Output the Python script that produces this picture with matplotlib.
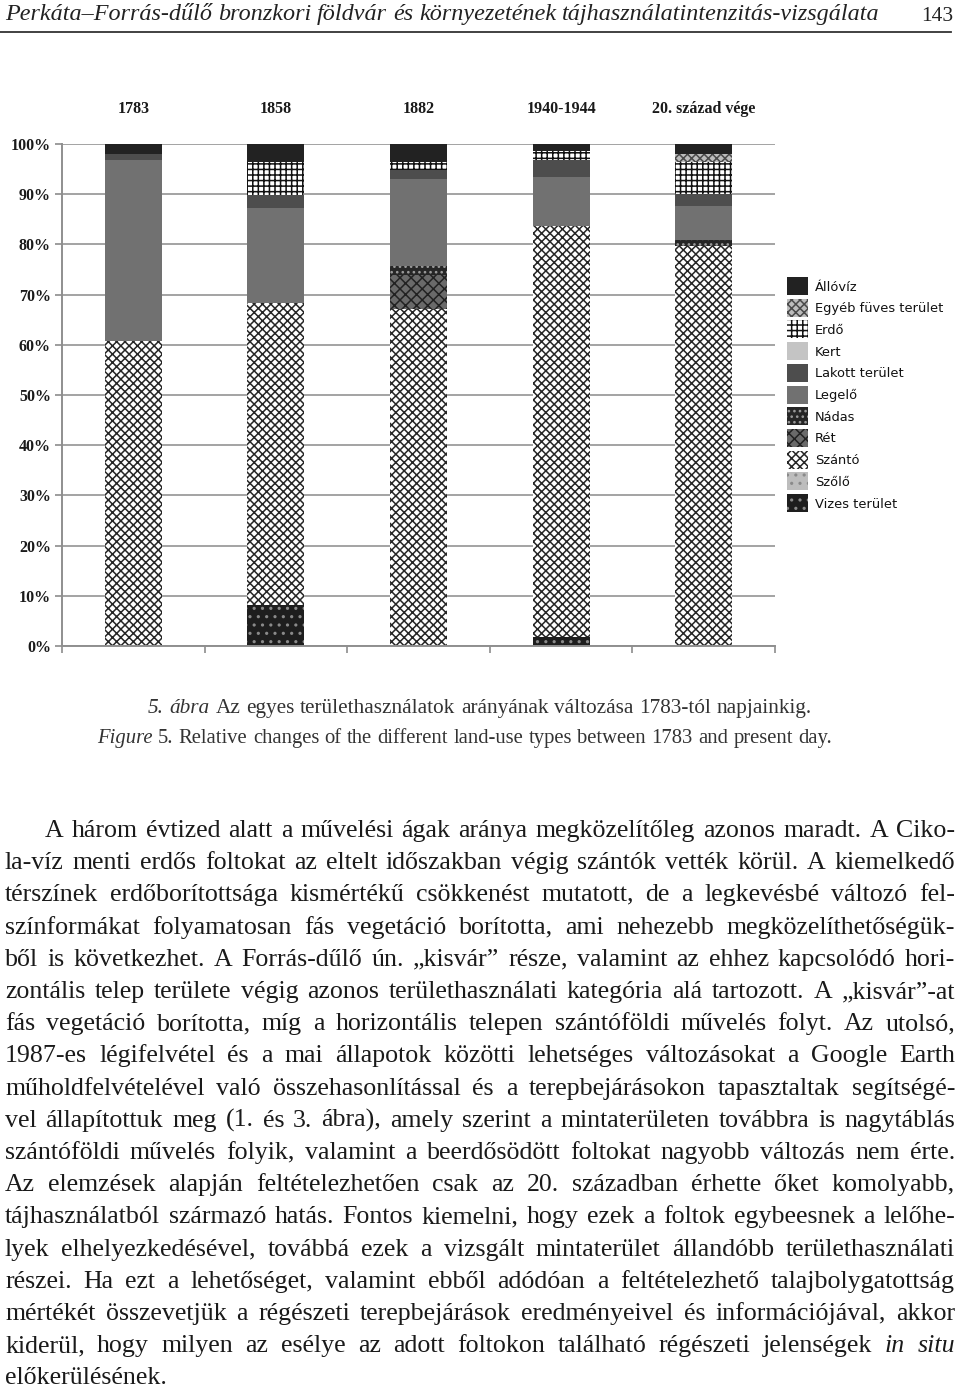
"""
Perkáta – területhasználati arányok 1783-tól napjainkig (5. ábra) + oldal szövege
"""
import matplotlib
matplotlib.use("Agg")
import matplotlib.pyplot as plt
from matplotlib.patches import Rectangle
import numpy as np

plt.rcParams["hatch.linewidth"] = 1.1

# --- adatok -------------------------------------------------------------
periods = ["1783", "1858", "1882", "1940-1944", "20. század vége"]

# rétegek alulról felfelé (a jelmagyarázat fordított sorrendje)
vizes = [0, 8.2, 0, 1.85, 0]
szolo = [0, 0, 0, 0, 0]
szanto = [60.8, 60.2, 67.1, 81.85, 79.7]
ret = [0, 0, 6.9, 0, 0]
nadas = [0, 0, 1.7, 0, 1.1]
legelo = [36.0, 18.9, 17.3, 9.8, 6.9]
lakott = [1.2, 2.5, 1.8, 3.3, 2.3]
kert = [0, 0, 0, 0, 0]
erdo = [0, 6.6, 1.6, 1.8, 6.4]
egyeb = [0, 0, 0, 0, 1.6]
allovi = [2.0, 3.6, 3.6, 1.4, 2.0]

layer_names = ["Vizes terület", "Szőlő", "Szántó", "Rét", "Nádas", "Legelő",
               "Lakott terület", "Kert", "Erdő", "Egyéb füves terület", "Állóvíz"]
layer_values = [vizes, szolo, szanto, ret, nadas, legelo, lakott, kert, erdo, egyeb, allovi]

y_ticks = list(range(0, 101, 10))
y_labels = [f"{v}%" for v in y_ticks]

HEADER = "Perkáta–Forrás-dűlő bronzkori földvár és környezetének tájhasználatintenzitás-vizsgálata"
PAGE_NO = "143"
CAPTION_1 = "*5.* *ábra* Az egyes területhasználatok arányának változása 1783-tól napjainkig."
CAPTION_2 = "*Figure* 5. Relative changes of the different land-use types between 1783 and present day."

BODY = [
    "A három évtized alatt a művelési ágak aránya megközelítőleg azonos maradt. A Ciko-",
    "la-víz menti erdős foltokat az eltelt időszakban végig szántók vették körül. A kiemelkedő",
    "térszínek erdőborítottsága kismértékű csökkenést mutatott, de a legkevésbé változó fel-",
    "színformákat folyamatosan fás vegetáció borította, ami nehezebb megközelíthetőségük-",
    "ből is következhet. A Forrás-dűlő ún. „kisvár” része, valamint az ehhez kapcsolódó hori-",
    "zontális telep területe végig azonos területhasználati kategória alá tartozott. A „kisvár”-at",
    "fás vegetáció borította, míg a horizontális telepen szántóföldi művelés folyt. Az utolsó,",
    "1987-es légifelvétel és a mai állapotok közötti lehetséges változásokat a Google Earth",
    "műholdfelvételével való összehasonlítással és a terepbejárásokon tapasztaltak segítségé-",
    "vel állapítottuk meg (1. és 3. ábra), amely szerint a mintaterületen továbbra is nagytáblás",
    "szántóföldi művelés folyik, valamint a beerdősödött foltokat nagyobb változás nem érte.",
    "Az elemzések alapján feltételezhetően csak az 20. században érhette őket komolyabb,",
    "tájhasználatból származó hatás. Fontos kiemelni, hogy ezek a foltok egybeesnek a lelőhe-",
    "lyek elhelyezkedésével, továbbá ezek a vizsgált mintaterület állandóbb területhasználati",
    "részei. Ha ezt a lehetőséget, valamint ebből adódóan a feltételezhető talajbolygatottság",
    "mértékét összevetjük a régészeti terepbejárások eredményeivel és információjával, akkor",
    "kiderül, hogy milyen az esélye az adott foltokon található régészeti jelenségek *in* *situ*",
    "előkerülésének.",
]

# mintázatok (kitöltés, sraffozás, sraffozás színe)
STYLES = {
    "Állóvíz": dict(color="#222222", hatch=None, edgecolor="#222222"),
    "Egyéb füves terület": dict(color="#bcbcbc", hatch="xxxx", edgecolor="#4a4a4a"),
    "Erdő": dict(color="white", hatch="+++", edgecolor="#111111"),
    "Kert": dict(color="#c4c4c4", hatch=None, edgecolor="#c4c4c4"),
    "Lakott terület": dict(color="#4d4d4d", hatch=None, edgecolor="#4d4d4d"),
    "Legelő": dict(color="#717171", hatch=None, edgecolor="#717171"),
    "Nádas": dict(color="#262626", hatch="...", edgecolor="#9a9a9a"),
    "Rét": dict(color="#6a6a6a", hatch="xxx", edgecolor="#222222"),
    "Szántó": dict(color="white", hatch="xxxx", edgecolor="#262626"),
    "Szőlő": dict(color="#bdbdbd", hatch="..", edgecolor="#8a8a8a"),
    "Vizes terület": dict(color="#1e1e1e", hatch="..", edgecolor="#8a8a8a"),
}

SERIF = "Liberation Serif"
W, H = 960, 1388


def put_line(ov, renderer, line, x0, x1, y, size, justify=True, fit=False, **kw):
    words = line.split(" ")
    arts = []
    for w in words:
        style = "normal"
        if len(w) > 2 and w.startswith("*") and w.endswith("*"):
            w, style = w[1:-1], "italic"
        arts.append(ov.text(0, y, w, fontsize=size, fontstyle=style, family=SERIF,
                            va="baseline", ha="left", **kw))
    if fit:
        widths = [t.get_window_extent(renderer).width for t in arts]
        natural = sum(widths) + 0.25 * size * 100 / 72 * (len(words) - 1)
        size = size * (x1 - x0) / natural
        for t in arts:
            t.set_fontsize(size)
    widths = [t.get_window_extent(renderer).width for t in arts]
    if justify and len(words) > 1:
        gap = (x1 - x0 - sum(widths)) / (len(words) - 1)
    else:
        gap = 0.25 * size * 100 / 72
    x = x0
    for t, wd in zip(arts, widths):
        t.set_x(x)
        x += wd + gap


def main():
    fig = plt.figure(figsize=(W / 100, H / 100), dpi=100)
    fig.patch.set_facecolor("white")

    # --- oszlopdiagram ---
    ax = fig.add_axes([62 / W, (H - 646) / H, (775 - 62) / W, 502 / H])
    x = np.arange(len(periods))
    bottom = np.zeros(len(periods))
    for name, vals in zip(layer_names, layer_values):
        st = STYLES[name]
        ax.bar(x, vals, 0.4, bottom=bottom, color=st["color"], hatch=st["hatch"],
               edgecolor=st["edgecolor"], linewidth=0, zorder=2)
        bottom += np.array(vals)

    ax.set_xlim(-0.5, len(periods) - 0.5)
    ax.set_ylim(0, 100)
    ax.set_yticks(y_ticks, labels=y_labels)
    for lab in ax.get_yticklabels():
        lab.set_fontfamily(SERIF)
        lab.set_fontweight("bold")
        lab.set_fontsize(11.5)
        lab.set_color("#1a1a1a")
    ax.tick_params(axis="y", length=5, width=1.2, color="#8c8c8c", pad=3)
    ax.yaxis.grid(True, color="#a3a3a3", linewidth=1.4, zorder=0)
    ax.set_axisbelow(True)

    ax.set_xticks(x, labels=periods)
    ax.tick_params(axis="x", which="major", bottom=False, top=False,
                   labelbottom=False, labeltop=True, pad=16)
    for tick in ax.xaxis.get_major_ticks():
        tick.label2.set_fontfamily(SERIF)
        tick.label2.set_fontweight("bold")
        tick.label2.set_fontsize(11.5)
        tick.label2.set_color("#1a1a1a")
    ax.set_xticks(np.arange(-0.5, len(periods)), minor=True)
    ax.tick_params(axis="x", which="minor", bottom=True, length=5, width=1.2,
                   color="#8c8c8c", direction="out")
    for side in ("top", "right"):
        ax.spines[side].set_visible(False)
    for side in ("left", "bottom"):
        ax.spines[side].set_color("#8f8f8f")
        ax.spines[side].set_linewidth(1.4)

    # --- szöveges réteg, pixel koordinátákkal ---
    ov = fig.add_axes([0, 0, 1, 1], zorder=5)
    ov.set_xlim(0, W)
    ov.set_ylim(H, 0)
    ov.axis("off")
    renderer = fig.canvas.get_renderer()

    # jelmagyarázat
    legend_order = layer_names[::-1]
    for i, name in enumerate(legend_order):
        st = STYLES[name]
        yc = 286 + i * 21.7
        ov.add_patch(Rectangle((787, yc - 9), 21, 18, facecolor=st["color"],
                               hatch=st["hatch"], edgecolor=st["edgecolor"], linewidth=0))
        ov.text(815, yc + 1, name, fontsize=9.4, family="DejaVu Sans", va="center",
                ha="left", color="#111111")

    # fejléc
    put_line(ov, renderer, " ".join(f"*{w}*" for w in HEADER.split(" ")), 5, 880, 20,
             15, fit=True, color="#222222")
    ov.text(953, 21, PAGE_NO, fontsize=15.5, family=SERIF, ha="right", va="baseline",
            color="#222222")
    ov.plot([0, 951], [32, 32], color="#333333", linewidth=1.3)

    # ábraaláírás
    put_line(ov, renderer, CAPTION_1, 148, 812, 713, 14, fit=True, color="#333333")
    put_line(ov, renderer, CAPTION_2, 97, 832, 743, 14, fit=True, color="#333333")

    # törzsszöveg
    for i, line in enumerate(BODY):
        base = 837 + i * 32.2
        x0 = 45 if i == 0 else 5
        last = i == len(BODY) - 1
        put_line(ov, renderer, line, x0, 955, base, 18.6, justify=not last, color="#1a1a1a")

    fig.savefig("out.png", dpi=100, facecolor="white")
    plt.close(fig)


if __name__ == "__main__":
    main()
